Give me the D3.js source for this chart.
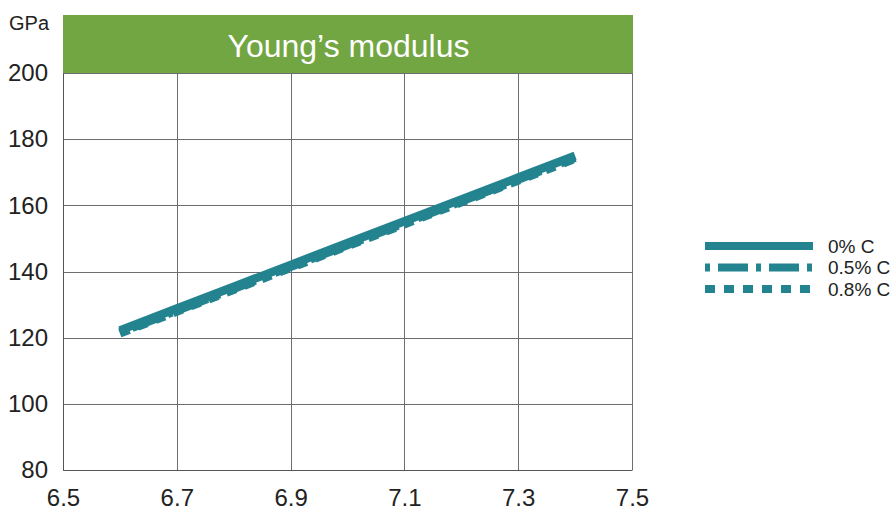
<!DOCTYPE html>
<html>
<head>
<meta charset="utf-8">
<script src="https://cdn.jsdelivr.net/npm/d3@7"></script>
<style>
  body { margin: 0; background: #fff; }
  text { font-family: "Liberation Sans", Arial, sans-serif; }
</style>
</head>
<body>
<svg id="chart" width="892" height="512"></svg>
<script>
// density (g/cm3) on x, modulus (GPa) on y
var density = [6.6, 6.7, 6.8, 6.9, 7.0, 7.1, 7.2, 7.3, 7.4];
var carbon0 = [122.2, 128.8, 135.4, 142.0, 148.6, 155.2, 161.8, 168.4, 175.0];
var carbon05 = [121.6, 128.2, 134.8, 141.4, 148.0, 154.6, 161.2, 167.8, 174.4];
var carbon08 = [121.3, 127.9, 134.5, 141.1, 147.7, 154.3, 160.9, 167.5, 174.1];
var seriesNames = ["0% C", "0.5% C", "0.8% C"];
var xTicks = [6.5, 6.7, 6.9, 7.1, 7.3, 7.5];
var yTicks = [80, 100, 120, 140, 160, 180, 200];

var svg = d3.select("#chart"),
    margin = {top: 73, left: 63},
    width = 632 - 63,
    height = 470 - 73,
    teal = "#23838f",
    g = svg.append("g").attr("transform", "translate(" + margin.left + "," + margin.top + ")");

var x = d3.scaleLinear().domain([6.5, 7.5]).range([0, width]);
var y = d3.scaleLinear().domain([80, 200]).range([height, 0]);

// grid
g.selectAll(".vgrid")
    .data(xTicks)
    .enter().append("line")
    .attr("x1", function(d) { return Math.round(x(d)) + 0.5; })
    .attr("x2", function(d) { return Math.round(x(d)) + 0.5; })
    .attr("y1", 0).attr("y2", height)
    .attr("stroke", "#6e6e6e").attr("stroke-width", 1);

g.selectAll(".hgrid")
    .data(yTicks)
    .enter().append("line")
    .attr("x1", 0).attr("x2", width)
    .attr("y1", function(d) { return Math.round(y(d)) + 0.5; })
    .attr("y2", function(d) { return Math.round(y(d)) + 0.5; })
    .attr("stroke", "#6e6e6e").attr("stroke-width", 1);

// axes
var yAxis = g.append("g")
    .call(d3.axisLeft(y).tickValues(yTicks).tickSize(0).tickPadding(15));
yAxis.select(".domain").attr("stroke", "#555");
yAxis.selectAll("text").attr("font-size", 24).attr("fill", "#222")
    .attr("font-family", "Liberation Sans, Arial, sans-serif");

var xAxis = g.append("g")
    .attr("transform", "translate(0," + height + ")")
    .call(d3.axisBottom(x).tickValues(xTicks).tickSize(0).tickPadding(19).tickFormat(d3.format(".1f")));
xAxis.select(".domain").attr("stroke", "#555");
xAxis.selectAll("text").attr("font-size", 24).attr("fill", "#222")
    .attr("font-family", "Liberation Sans, Arial, sans-serif");

svg.append("text")
    .attr("x", 9).attr("y", 30)
    .attr("font-size", 20).attr("fill", "#222")
    .text("GPa");

// title bar
svg.append("rect")
    .attr("x", margin.left).attr("y", 15)
    .attr("width", width + 1).attr("height", margin.top - 15)
    .attr("fill", "#72a642");
svg.append("text")
    .attr("x", margin.left + width / 2 + 1).attr("y", 57)
    .attr("text-anchor", "middle")
    .attr("font-size", 32).attr("fill", "#fff")
    .text("Young\u2019s modulus");

// lines
var dashes = [null, "5,8,30,8", "10,9"];
var allSeries = [carbon0, carbon05, carbon08];
var line = d3.line()
    .x(function(d, i) { return x(density[i]); })
    .y(function(d) { return y(d); });

g.selectAll(".series")
    .data(allSeries)
    .enter().append("path")
    .attr("d", line)
    .attr("fill", "none")
    .attr("stroke", teal)
    .attr("stroke-width", 8.5)
    .attr("stroke-dasharray", function(d, i) { return dashes[i]; });

// legend
var legend = svg.selectAll(".legend")
    .data(seriesNames)
    .enter().append("g")
    .attr("transform", function(d, i) { return "translate(705," + (246 + 21.5 * i) + ")"; });

legend.append("line")
    .attr("x1", 0).attr("x2", 108)
    .attr("stroke", teal).attr("stroke-width", 8)
    .attr("stroke-dasharray", function(d, i) { return dashes[i]; });

legend.append("text")
    .attr("x", 123).attr("dy", "0.35em")
    .attr("font-size", 19).attr("fill", "#222")
    .text(function(d) { return d; });
</script>
</body>
</html>
